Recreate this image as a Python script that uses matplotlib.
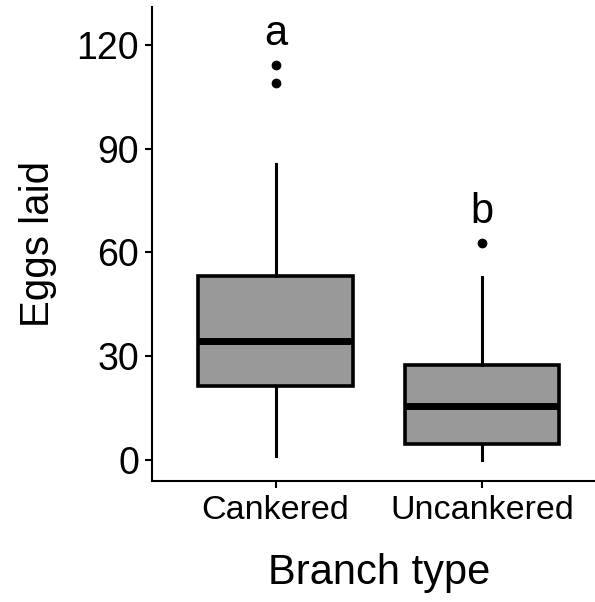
import matplotlib
matplotlib.use("Agg")
import matplotlib.pyplot as plt

plt.rcParams['font.family'] = ['Liberation Sans', 'DejaVu Sans']

# box statistics
groups = ["Cankered", "Uncankered"]
lower_whisker = [1.0, 0.0]
q1 = [21.4, 4.5]
median = [34.4, 15.5]
q3 = [53.1, 27.6]
upper_whisker = [85.7, 53.0]
outliers = [[108.9, 114.1], [62.8]]
letters = ["a", "b"]
letter_y = [123.3, 71.7]

stats = []
for i in range(len(groups)):
    stats.append(dict(whislo=lower_whisker[i], q1=q1[i], med=median[i],
                      q3=q3[i], whishi=upper_whisker[i], fliers=outliers[i],
                      label=groups[i]))

fig = plt.figure(figsize=(5.95, 6.02), dpi=100)
ax = fig.add_axes([0.255, 0.2015, 0.763, 0.787])

ax.bxp(stats, positions=[1, 2], widths=0.75, patch_artist=True, showcaps=False,
       boxprops=dict(facecolor='#999999', edgecolor='black', linewidth=2.6),
       medianprops=dict(color='black', linewidth=5),
       whiskerprops=dict(color='black', linewidth=2.2),
       flierprops=dict(marker='o', markerfacecolor='black', markeredgecolor='black',
                       markersize=6))

for i, t in enumerate(letters):
    ax.text(i + 1, letter_y[i], t, ha='center', va='center', fontsize=30)

ax.set_xlim(0.4, 2.6)
ax.set_ylim(-6, 131)
ax.set_yticks([0, 30, 60, 90, 120])
ax.set_xticks([1, 2])
ax.set_xticklabels(groups)
ax.tick_params(axis='y', labelsize=27, length=5, width=1.5, colors='black', pad=4)
ax.tick_params(axis='x', labelsize=24.5, length=5, width=1.5, colors='black', pad=5)
for s in ['top', 'right']:
    ax.spines[s].set_visible(False)
for s in ['left', 'bottom']:
    ax.spines[s].set_linewidth(1.5)
ax.set_xlabel("Branch type", fontsize=30, labelpad=20)
ax.set_ylabel("Eggs laid", fontsize=29, labelpad=14)

fig.savefig("out.png", dpi=100)
